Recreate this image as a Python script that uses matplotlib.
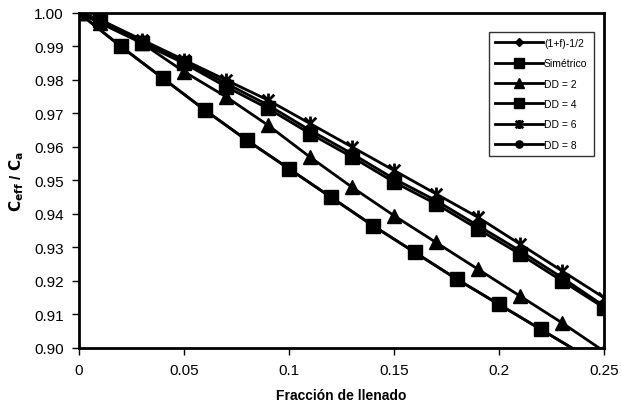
import matplotlib
matplotlib.use('Agg')
import matplotlib.pyplot as plt
from matplotlib.path import Path

plt.rcParams['font.family'] = ['Liberation Sans', 'DejaVu Sans']

# Data
f_even = [0, 0.02, 0.04, 0.06, 0.08, 0.10, 0.12, 0.14, 0.16, 0.18, 0.20, 0.22, 0.24]
teoria = [1.000, 0.990, 0.9805, 0.971, 0.962, 0.9535, 0.945, 0.9365, 0.9285, 0.9205, 0.913, 0.9055, 0.898]
simetrico = [1.000, 0.990, 0.9805, 0.971, 0.962, 0.9535, 0.945, 0.9365, 0.9285, 0.9205, 0.913, 0.9055, 0.898]

f_odd = [0, 0.01, 0.03, 0.05, 0.07, 0.09, 0.11, 0.13, 0.15, 0.17, 0.19, 0.21, 0.23, 0.25]
dd2 = [1.000, 0.997, 0.991, 0.9825, 0.975, 0.9665, 0.957, 0.948, 0.9395, 0.9315, 0.9235, 0.9155, 0.9075, 0.899]
dd4 = [1.000, 0.998, 0.991, 0.985, 0.978, 0.9715, 0.964, 0.957, 0.9495, 0.943, 0.9355, 0.928, 0.920, 0.912]
dd6 = [1.000, 0.998, 0.992, 0.986, 0.980, 0.974, 0.967, 0.960, 0.953, 0.946, 0.939, 0.931, 0.923, 0.915]
dd8 = [1.000, 0.998, 0.9915, 0.9855, 0.979, 0.9725, 0.965, 0.958, 0.9505, 0.944, 0.9365, 0.929, 0.921, 0.9125]

# Excel-style star marker: an x with a vertical bar
star = Path([(-1, -1), (1, 1), (-1, 1), (1, -1), (0, -1.2), (0, 1.2)],
            [Path.MOVETO, Path.LINETO, Path.MOVETO, Path.LINETO, Path.MOVETO, Path.LINETO])

fig = plt.figure(figsize=(6.21, 4.10), dpi=100)
ax = fig.add_axes([0.127, 0.149, 0.8456, 0.817])

kw = dict(color='black', lw=2, mfc='black', mec='black')
ax.plot(f_even, teoria, marker='D', ms=7, label='(1+f)-1/2', **kw)
ax.plot(f_even, simetrico, marker='s', ms=10, label='Simétrico', **kw)
ax.plot(f_odd, dd2, marker='^', ms=10, label='DD = 2', **kw)
ax.plot(f_odd, dd4, marker='s', ms=10, label='DD = 4', **kw)
ax.plot(f_odd, dd6, marker=star, ms=10, mew=2, label='DD = 6', **kw)
ax.plot(f_odd, dd8, marker='o', ms=8, label='DD = 8', **kw)

ax.set_xlim(0, 0.25)
ax.set_ylim(0.90, 1.00)
ax.set_xticks([0, 0.05, 0.1, 0.15, 0.2, 0.25])
ax.set_xticklabels(['0', '0.05', '0.1', '0.15', '0.2', '0.25'])
ax.set_yticks([0.90 + 0.01 * i for i in range(11)])
ax.set_yticklabels(['%.2f' % (0.90 + 0.01 * i) for i in range(11)])
ax.tick_params(direction='out', length=5, width=1, labelsize=11, pad=6)
for s in ax.spines.values():
    s.set_linewidth(2)

ax.set_xlabel('Fracción de llenado', fontsize=10, fontweight='bold', labelpad=8)
ax.set_ylabel(r'$\mathbf{C_{eff}}$ / $\mathbf{C_a}$', fontsize=11, fontweight='bold', labelpad=6)

leg = ax.legend(loc='upper right', bbox_to_anchor=(0.99, 0.96), fontsize=7.5,
                handlelength=4.6, frameon=True, fancybox=False, edgecolor='black',
                borderpad=0.6, labelspacing=1.0, handletextpad=0.1, markerscale=0.65)
leg.get_frame().set_linewidth(1)

fig.savefig('out.png', dpi=100)
